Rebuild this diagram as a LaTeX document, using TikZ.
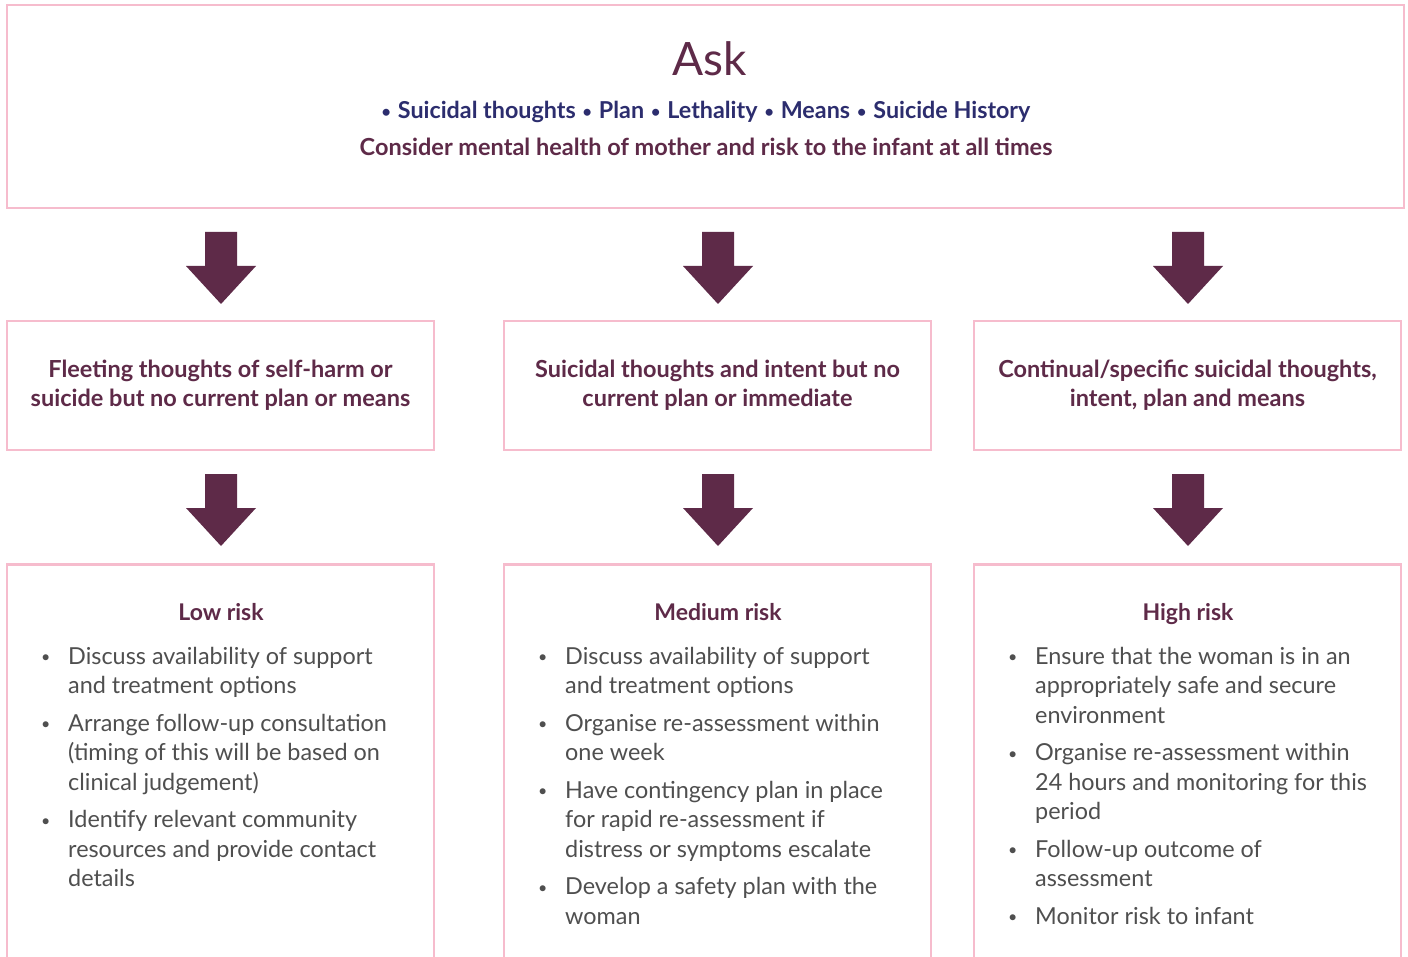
\documentclass[tikz,border=0pt]{standalone}
\usepackage{fontspec}
\setmainfont{Lato}
\usetikzlibrary{calc}
\definecolor{maroonc}{HTML}{5E2A48}
\definecolor{navyc}{HTML}{2C2D6E}
\definecolor{grayc}{HTML}{4F4F4F}
\definecolor{pinkc}{HTML}{F6BCCD}
\newcommand{\sbul}{{\fontsize{16}{16}\selectfont\raisebox{1.6pt}{\textbullet}}}
\newcommand{\tsep}{\hspace{7pt}\sbul\hspace{7pt}}
\newcommand{\bitem}[1]{\makebox[27pt][l]{\sbul}#1}
\newcommand{\bcont}[1]{\hspace*{27pt}#1}
\begin{document}
\begin{tikzpicture}[x=1pt,y=-1pt,
  box/.style={draw=pinkc, line width=2.6pt, fill=white, inner sep=0pt},
  headtxt/.style={text=maroonc, font=\bfseries\fontsize{23.5}{29}\selectfont, align=center},
  listtxt/.style={text=grayc, font=\fontsize{23.4}{29.5}\selectfont, align=left, inner sep=0pt, anchor=north west},
  risktitle/.style={text=maroonc, font=\bfseries\fontsize{23}{29}\selectfont, anchor=base, inner sep=0pt},
  barrow/.pic={\fill[maroonc] (-16,0) -- (16,0) -- (16,34) -- (35,34) -- (0,72) -- (-35,34) -- (-16,34) -- cycle;}
]
\useasboundingbox (0,0) rectangle (1408,957);
\clip (0,0) rectangle (1408,957);
\fill[white] (0,0) rectangle (1408,957);

% top box
\node[box, minimum width=1397pt, minimum height=203pt] (top) at (705.5,106.5) {};
\node[text=maroonc, font=\fontsize{46}{52}\selectfont, anchor=base, inner sep=0pt] (ask) at (710,76) {Ask};
\node[text=navyc, font=\bfseries\fontsize{23.3}{28}\selectfont, anchor=base, inner sep=0pt] (topics) at (706,119) {\sbul\hspace{7pt}Suicidal thoughts\tsep Plan\tsep Lethality\tsep Means\tsep Suicide History};
\node[text=maroonc, font=\bfseries\fontsize{23.5}{28}\selectfont, anchor=base, inner sep=0pt] (consider) at (706,156) {Consider mental health of mother and risk to the infant at all times};

% middle boxes
\node[box, headtxt, minimum width=427pt, minimum height=129pt] (m1) at (220.5,385.5) {Fleeting thoughts of self-harm or\\suicide but no current plan or means};
\node[box, headtxt, minimum width=427pt, minimum height=129pt] (m2) at (717.5,385.5) {Suicidal thoughts and intent but no\\current plan or immediate};
\node[box, headtxt, minimum width=427pt, minimum height=129pt] (m3) at (1187.5,385.5) {Continual/specific suicidal thoughts,\\intent, plan and means};

% bottom boxes (open at the bottom edge of the picture)
\node[box, minimum width=427pt, minimum height=440pt, anchor=north] (b1) at (220.5,563) {};
\node[box, minimum width=427pt, minimum height=440pt, anchor=north] (b2) at (717.5,563) {};
\node[box, minimum width=427pt, minimum height=440pt, anchor=north] (b3) at (1187.5,563) {};

% arrows
\pic at (221,232) {barrow};
\pic at (718,232) {barrow};
\pic at (1188,232) {barrow};
\pic at (221,474) {barrow};
\pic at (718,474) {barrow};
\pic at (1188,474) {barrow};

% risk titles
\node[risktitle] (t1) at (221,620) {Low risk};
\node[risktitle] (t2) at (718,620) {Medium risk};
\node[risktitle] (t3) at (1188,620) {High risk};

% lists
\node[listtxt] (l1) at (41,647) {\bitem{Discuss availability of support}\\\bcont{and treatment options}\\[8pt]
\bitem{Arrange follow-up consultation}\\\bcont{(timing of this will be based on}\\\bcont{clinical judgement)}\\[8pt]
\bitem{Identify relevant community}\\\bcont{resources and provide contact}\\\bcont{details}};
\node[listtxt] (l2) at (538,647) {\bitem{Discuss availability of support}\\\bcont{and treatment options}\\[8pt]
\bitem{Organise re-assessment within}\\\bcont{one week}\\[8pt]
\bitem{Have contingency plan in place}\\\bcont{for rapid re-assessment if}\\\bcont{distress or symptoms escalate}\\[8pt]
\bitem{Develop a safety plan with the}\\\bcont{woman}};
\node[listtxt] (l3) at (1008,647) {\bitem{Ensure that the woman is in an}\\\bcont{appropriately safe and secure}\\\bcont{environment}\\[8pt]
\bitem{Organise re-assessment within}\\\bcont{24 hours and monitoring for this}\\\bcont{period}\\[8pt]
\bitem{Follow-up outcome of}\\\bcont{assessment}\\[8pt]
\bitem{Monitor risk to infant}};
\end{tikzpicture}
\end{document}
